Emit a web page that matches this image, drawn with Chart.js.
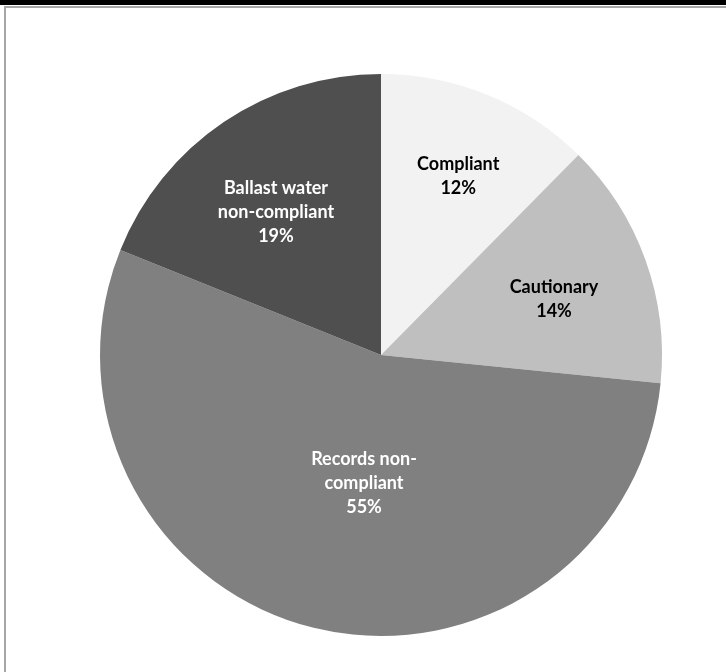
<!DOCTYPE html>
<html>
<head>
<meta charset="utf-8">
<script src="https://cdn.jsdelivr.net/npm/chart.js@4.4.1/dist/chart.umd.min.js"></script>
<style>
  body { margin: 0; background: #fff; }
  #topBand { position: absolute; left: 0; top: 0; width: 726px; height: 5px; background: #000; }
  #frame { position: absolute; left: 4px; top: 6px; width: 722px; height: 666px;
           border-top: 2px solid #a6a6a6; border-left: 2px solid #a6a6a6; box-sizing: border-box; }
  #chart { position: absolute; left: 0; top: 0; }
</style>
</head>
<body>
<div id="topBand"></div>
<div id="frame"></div>
<canvas id="chart" width="726" height="672"></canvas>
<script>
// Slice data, clockwise from 12 o'clock
const categories = ['Compliant', 'Cautionary', 'Records non-compliant', 'Ballast water non-compliant'];
// shares (labels show them rounded)
const shares = [12.4, 14.2, 54.5, 18.9];
const percentLabels = ['12%', '14%', '55%', '19%'];
// How each label is broken into lines in the original
const labelLines = [
  ['Compliant'],
  ['Cautionary'],
  ['Records non-', 'compliant'],
  ['Ballast water', 'non-compliant']
];

const sliceColors = ['#f2f2f2', '#bfbfbf', '#808080', '#4f4f4f'];
const labelColors = ['#000000', '#000000', '#ffffff', '#ffffff'];
// label placement: [fraction of radius, degrees shifted from slice middle]
const labelPlacement = [[0.694, 1.0], [0.647, 1.9], [0.459, -6.3], [0.631, -2.3]];

const sliceLabels = {
  id: 'sliceLabels',
  afterDatasetsDraw(chart) {
    const ctx = chart.ctx;
    const meta = chart.getDatasetMeta(0);
    ctx.save();
    ctx.font = 'bold 18px Lato, "Open Sans", sans-serif';
    ctx.textAlign = 'center';
    ctx.textBaseline = 'middle';
    const lineHeight = 24;
    meta.data.forEach((arc, i) => {
      const p = arc.getProps(['x', 'y', 'startAngle', 'endAngle', 'outerRadius'], true);
      const [frac, shift] = labelPlacement[i];
      const ang = (p.startAngle + p.endAngle) / 2 + shift * Math.PI / 180;
      const cx = p.x + Math.cos(ang) * p.outerRadius * frac;
      const cy = p.y + Math.sin(ang) * p.outerRadius * frac;
      const lines = labelLines[i].concat([percentLabels[i]]);
      const top = cy - (lines.length - 1) * lineHeight / 2;
      ctx.fillStyle = labelColors[i];
      lines.forEach((line, j) => ctx.fillText(line, cx, top + j * lineHeight));
    });
    ctx.restore();
  }
};

new Chart(document.getElementById('chart').getContext('2d'), {
  type: 'pie',
  data: {
    labels: categories,
    datasets: [{
      data: shares,
      backgroundColor: sliceColors,
      borderWidth: 0
    }]
  },
  options: {
    responsive: false,
    animation: false,
    layout: { padding: { left: 100, right: 64, top: 74, bottom: 36 } },
    plugins: {
      legend: { display: false },
      tooltip: { enabled: false }
    }
  },
  plugins: [sliceLabels]
});
</script>
</body>
</html>
